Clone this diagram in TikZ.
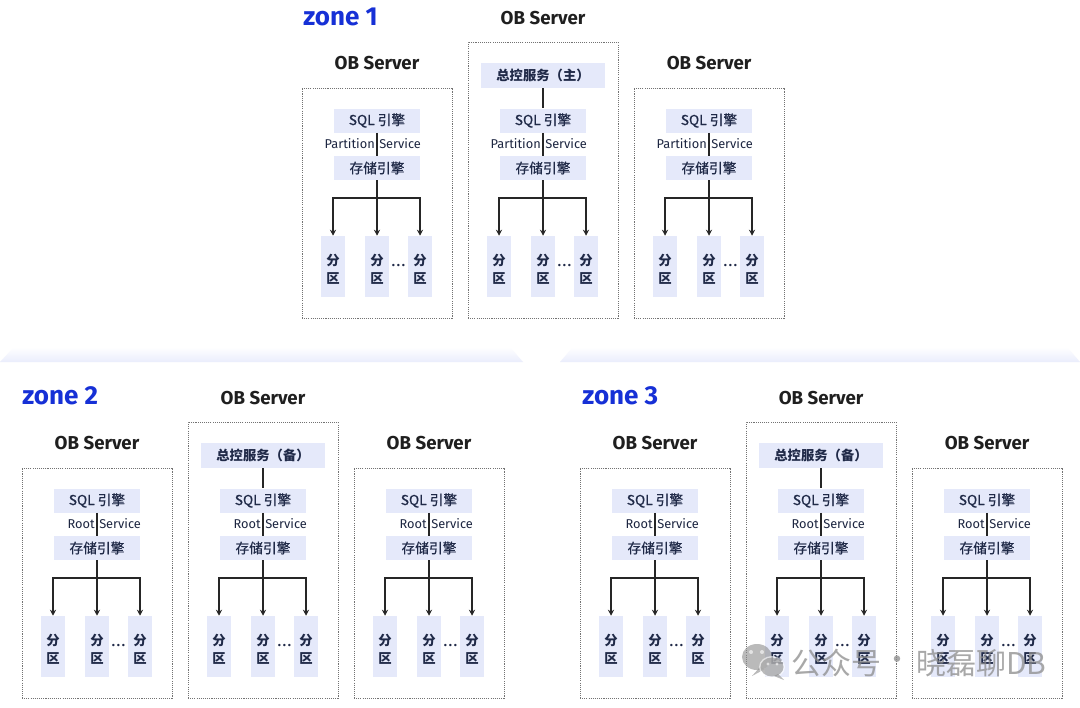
\documentclass[tikz,border=0pt]{standalone}
\usepackage{fontspec}
\setmainfont{Fira Sans}
\newfontfamily\cjk{Noto Sans CJK SC}
\newfontfamily\cjkmed[FakeBold=0.6]{Noto Sans CJK SC}
\usetikzlibrary{arrows.meta}
\definecolor{zoneblue}{RGB}{22,48,214}
\definecolor{navy}{RGB}{32,42,72}
\definecolor{boxfill}{RGB}{229,233,250}
\definecolor{sepfill}{RGB}{234,237,252}
\tikzset{
  ttl/.style={font=\bfseries\fontsize{14}{16}\selectfont, text=black!88, inner sep=0pt},
  zonelbl/.style={font=\bfseries\fontsize{19.5}{22}\selectfont, text=zoneblue, anchor=west, inner sep=0pt},
  srvbox/.style={draw=black!55, dash pattern=on 0.8pt off 0.8pt, line width=0.75pt, minimum width=112.5pt, inner sep=0pt},
  blk/.style={fill=boxfill, text=navy, font=\cjkmed\fontsize{10.3}{12}\selectfont, minimum width=64.5pt, minimum height=18pt, inner sep=0pt},
  mst/.style={fill=boxfill, text=navy, font=\cjk\bfseries\fontsize{10}{12}\selectfont, minimum width=93pt, minimum height=18.75pt, inner sep=0pt},
  part/.style={fill=boxfill, minimum width=18pt, minimum height=45.75pt, inner sep=0pt},
  parttxt/.style={text=navy, font=\cjk\bfseries\fontsize{10}{13.5}\selectfont, align=center, inner sep=0pt},
  pstxt/.style={font=\fontsize{9.6}{11}\selectfont, text=navy!90!black, inner sep=0pt},
  dotsn/.style={font=\bfseries\fontsize{10}{10}\selectfont, text=navy, inner sep=0pt},
  ln/.style={draw=black!85, line width=1pt},
  arr/.style={ln, -{Stealth[length=4.5pt,width=4.5pt]}},
  wm/.style={font=\cjk\fontsize{22.5}{24}\selectfont, text=black!45, text opacity=0.75, inner sep=0pt, anchor=west}
}
% #1 name, #2 cx, #3 Y, #4 left word
\newcommand\serverbody[4]{%
  \node[blk] (#1-sql) at (#2,{#3+120.5}) {SQL 引擎};
  \node[pstxt,anchor=east] (#1-pl) at ({#2-2},{#3+144}) {#4};
  \node[pstxt,anchor=west] (#1-pr) at ({#2+2},{#3+144}) {Service};
  \node[blk] (#1-sto) at (#2,{#3+168}) {存储引擎};
  \coordinate (#1-bar) at (#2,{#3+198});
  \node[part] (#1-pa) at ({#2-44},{#3+266.5}) {};
  \node[part] (#1-pb) at (#2,{#3+266.5}) {};
  \node[part] (#1-pc) at ({#2+43},{#3+266.5}) {};
  \node[parttxt] (#1-pat) at ({#2-44},{#3+269.5}) {分\\区};
  \node[parttxt] (#1-pbt) at (#2,{#3+269.5}) {分\\区};
  \node[parttxt] (#1-pct) at ({#2+43},{#3+269.5}) {分\\区};
  \node[dotsn] (#1-dots) at ({#2+21.5},{#3+266}) {.\kern1.3pt.\kern1.3pt.};
  \draw[ln] (#1-sql) -- (#1-sto);
  \draw[ln] (#1-sto) -- (#1-bar);
  \draw[arr] (#1-bar) -| (#1-pa);
  \draw[arr] (#1-bar) -- (#1-pb);
  \draw[arr] (#1-bar) -| (#1-pc);
}
% side server: #1 name, #2 cx, #3 Y, #4 word
\newcommand\sideserver[4]{%
  \node[ttl] (#1-title) at (#2,{#3+63}) {OB Server};
  \node[srvbox, minimum height=172.5pt] (#1-box) at (#2,{#3+203}) {};
  \serverbody{#1}{#2}{#3}{#4}
}
% middle server: #1 name, #2 cx, #3 Y, #4 word, #5 master text
\newcommand\midserver[5]{%
  \node[ttl] (#1-title) at (#2,{#3+18}) {OB Server};
  \node[srvbox, minimum height=207pt] (#1-box) at (#2,{#3+180}) {};
  \node[mst] (#1-m) at (#2,{#3+75.5}) {#5};
  \serverbody{#1}{#2}{#3}{#4}
  \draw[ln] (#1-m) -- (#1-sql);
}
\begin{document}
\begin{tikzpicture}[x=0.75pt,y=-0.75pt]
  \fill[white] (0,0) rectangle (1080,707);
  \useasboundingbox (0,0) rectangle (1080,707);
  % separators
  \shade[top color=white, bottom color=sepfill] (0,362) -- (14,347) -- (510,347) -- (523,362) -- cycle;
  \shade[top color=white, bottom color=sepfill] (560,362) -- (573,347) -- (1067,347) -- (1080,362) -- cycle;
  % zone 1
  \node[zonelbl] (zone1) at (303,17) {zone 1};
  \sideserver{za}{377}{0}{Partition}
  \midserver{zb}{543}{0}{Partition}{总控服务（主）}
  \sideserver{zc}{709}{0}{Partition}
  % zone 2
  \node[zonelbl] (zone2) at (22,396) {zone 2};
  \sideserver{ya}{97}{380}{Root}
  \midserver{yb}{263}{380}{Root}{总控服务（备）}
  \sideserver{yc}{429}{380}{Root}
  % zone 3
  \node[zonelbl] (zone3) at (582,396) {zone 3};
  \sideserver{xa}{655}{380}{Root}
  \midserver{xb}{821}{380}{Root}{总控服务（备）}
  \sideserver{xc}{987}{380}{Root}
  % watermark
  \begin{scope}[opacity=0.6]
    \fill[black!45] (757,657) ellipse [x radius=15, y radius=13];
    \fill[black!45] (760,667) -- (752,676) -- (765,669) -- cycle;
    \fill[white] (772,667) ellipse [x radius=13, y radius=11];
    \fill[black!45] (772,667) ellipse [x radius=11.5, y radius=9.5];
    \fill[black!45] (778,674) -- (784,680) -- (774,676) -- cycle;
    \fill[white] (751,652) circle [radius=2];
    \fill[white] (762,652) circle [radius=2];
    \fill[white] (768,664) circle [radius=1.6];
    \fill[white] (777,664) circle [radius=1.6];
  \end{scope}
  \node[wm] (wm1) at (791,663) {公众号};
  \node[wm, anchor=center] (wm2) at (897,663) {·};
  \node[wm] (wm3) at (916,663) {晓磊聊DB};
\end{tikzpicture}
\end{document}
